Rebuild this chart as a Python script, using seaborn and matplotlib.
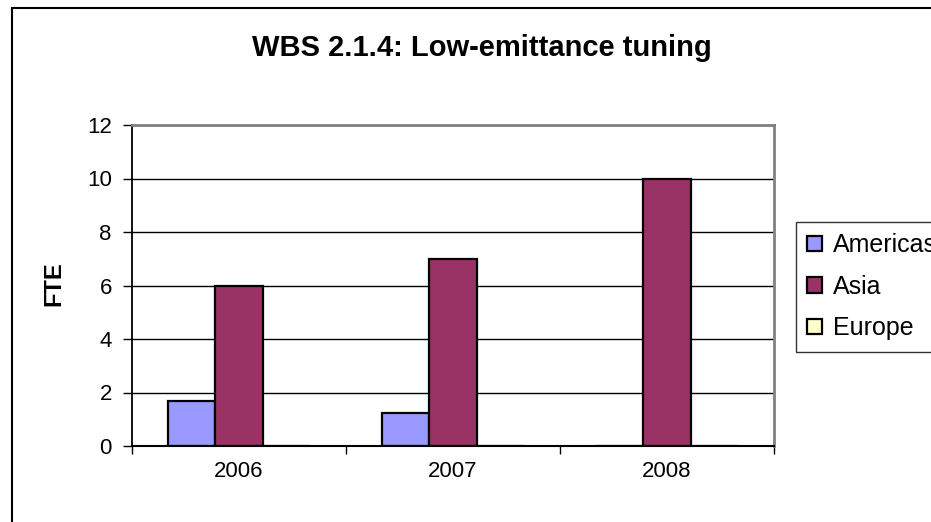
import matplotlib
matplotlib.use("Agg")
import matplotlib.pyplot as plt
import matplotlib.patches as mpatches
import seaborn as sns
import pandas as pd

# FTE effort by region and year
years = ["2006", "2007", "2008"]
regions = ["Americas", "Asia", "Europe"]
americas = [1.7, 1.25, 0.0]
asia = [6.0, 7.0, 10.0]
europe = [0.0, 0.0, 0.0]
y_ticks = [0, 2, 4, 6, 8, 10, 12]

colors = {"Americas": "#9999FF", "Asia": "#993366", "Europe": "#FFFFCC"}

df = pd.DataFrame({
    "Year": years * 3,
    "Region": ["Americas"] * 3 + ["Asia"] * 3 + ["Europe"] * 3,
    "FTE": americas + asia + europe,
})

sns.set_theme(style="white")
plt.rcParams["font.family"] = ["Liberation Sans", "DejaVu Sans"]
plt.rcParams["text.color"] = "black"
plt.rcParams["axes.labelcolor"] = "black"
plt.rcParams["xtick.color"] = "black"
plt.rcParams["ytick.color"] = "black"

fig = plt.figure(figsize=(9.31, 5.22), dpi=100)
ax = fig.add_axes([132 / 931, 1 - 446 / 522, (774 - 132) / 931, (446 - 125) / 522])

sns.barplot(data=df, x="Year", y="FTE", hue="Region", order=years,
            hue_order=regions, palette=colors, width=0.66, gap=0,
            edgecolor="black", linewidth=1.6, saturation=1, ax=ax, zorder=3)

handles, labels = ax.get_legend_handles_labels()
if ax.get_legend() is not None:
    ax.get_legend().remove()

ax.set_ylim(0, 12)
ax.set_xlim(-0.5, 2.5)
ax.set_yticks(y_ticks)
ax.set_yticklabels([str(v) for v in y_ticks])
ax.yaxis.grid(True, color="black", linewidth=1.0, zorder=0)
ax.xaxis.grid(False)
ax.set_axisbelow(True)

# spines: black axes, gray plot-area frame
ax.spines["left"].set_color("black")
ax.spines["left"].set_linewidth(1.3)
ax.spines["bottom"].set_color("black")
ax.spines["bottom"].set_linewidth(1.5)
ax.spines["bottom"].set_zorder(5)
for s in ("top", "right"):
    ax.spines[s].set_color("#808080")
    ax.spines[s].set_linewidth(2.0)

ax.tick_params(axis="y", which="major", direction="out", length=6.5, width=1.0,
               color="black", pad=8, labelsize=16, left=True)
ax.tick_params(axis="x", which="major", length=0, pad=11, labelsize=16)
ax.set_xticks([-0.5, 0.5, 1.5, 2.5], minor=True)
ax.tick_params(axis="x", which="minor", direction="out", length=5.5, width=1.0,
               color="black", bottom=True)

ax.set_xlabel("")
ax.set_ylabel("")
fig.text(54 / 931, 1 - 284 / 522, "FTE", rotation=90, ha="center", va="center",
         fontsize=17, fontweight="bold")

fig.text(482 / 931, 1 - 48 / 522, "WBS 2.1.4: Low-emittance tuning",
         ha="center", va="center", fontsize=21, fontweight="bold")

# outer chart frame, running off the right and bottom edges
frame = mpatches.Rectangle((12 / 931, -0.2), 1.2, 1 - 7.5 / 522 + 0.2,
                           transform=fig.transFigure, fill=False,
                           edgecolor="black", linewidth=1.5, clip_on=False)
fig.patches.append(frame)

leg = fig.legend(handles, labels, loc="upper left",
                 bbox_to_anchor=(796 / 931, 1 - 222 / 522),
                 fontsize=18, frameon=True, fancybox=False,
                 handlelength=0.58, handleheight=0.58, handletextpad=0.45,
                 labelspacing=0.7, borderpad=0.45, borderaxespad=0)
leg.get_frame().set_edgecolor("black")
leg.get_frame().set_linewidth(1.0)

fig.savefig("out.png", dpi=100)
